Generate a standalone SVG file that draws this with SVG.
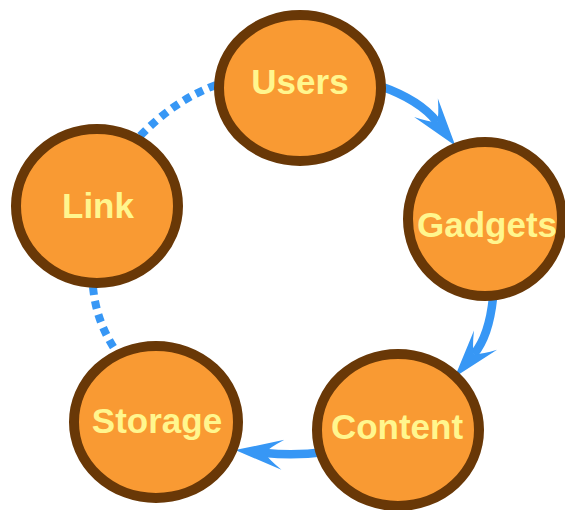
<svg xmlns="http://www.w3.org/2000/svg" width="565" height="510" viewBox="0 0 565 510">
  <style>
    .node ellipse { fill: #F99A33; stroke: #693807; stroke-width: 10; }
    .node text { font-family: "Liberation Sans", Arial, sans-serif; font-weight: bold; font-size: 35px; fill: #FFF68E; text-anchor: middle; }
    .flow { fill: none; stroke: #3797F5; stroke-width: 8.5; }
    .dotted { fill: none; stroke: #3797F5; stroke-width: 8; stroke-dasharray: 8 6; }
  </style>
  <defs>
    <!-- swept arrowhead; the notch sits on the path end -->
    <marker id="head" markerUnits="userSpaceOnUse" markerWidth="70" markerHeight="40" viewBox="-25 -20 70 40" refX="0" refY="0" orient="auto">
      <path d="M30,0 L-18,-15 Q-3,-5 0,0 Q-3,5 -18,15 Z" fill="#3797F5"/>
    </marker>
  </defs>

  <g id="connectors">
    <path class="flow" d="M380,86 Q420,100 437,122" marker-end="url(#head)"/>
    <path class="flow" d="M493,298 Q489,336 474,354" marker-end="url(#head)"/>
    <path class="flow" d="M325,452 Q295,456 265,453" marker-end="url(#head)"/>
    <path class="dotted" d="M216,85 Q175,100 140,136"/>
    <path class="dotted" d="M93,287 Q96,320 114,348"/>
  </g>

  <g id="users" class="node">
    <ellipse cx="300" cy="88" rx="81" ry="73"/>
    <text x="300" y="94">Users</text>
  </g>
  <g id="gadgets" class="node">
    <ellipse cx="485" cy="219" rx="77" ry="77"/>
    <text x="487" y="237">Gadgets</text>
  </g>
  <g id="content" class="node">
    <ellipse cx="398" cy="430" rx="81" ry="76"/>
    <text x="397" y="439">Content</text>
  </g>
  <g id="storage" class="node">
    <ellipse cx="156" cy="422" rx="82" ry="76"/>
    <text x="157" y="433">Storage</text>
  </g>
  <g id="link" class="node">
    <ellipse cx="97" cy="206" rx="81" ry="77"/>
    <text x="98" y="218">Link</text>
  </g>
</svg>
